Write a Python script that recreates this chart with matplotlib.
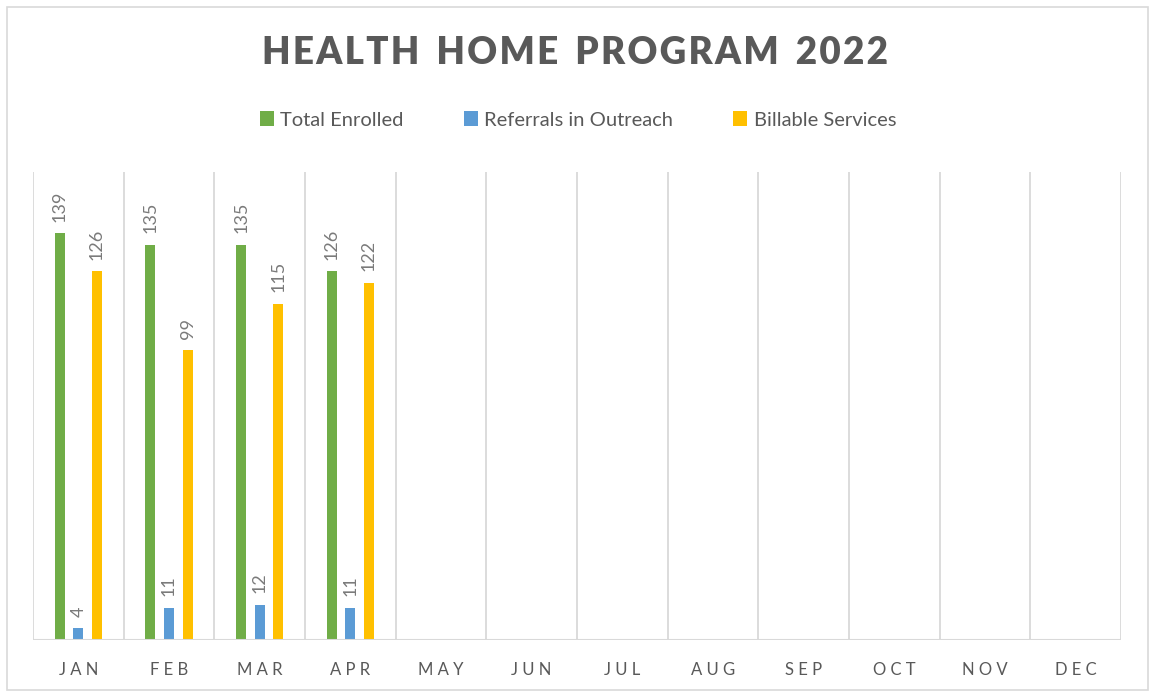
import matplotlib.pyplot as plt
import numpy as np
from matplotlib.patches import Rectangle

months = ['JAN', 'FEB', 'MAR', 'APR', 'MAY', 'JUN', 'JUL', 'AUG', 'SEP', 'OCT', 'NOV', 'DEC']
total_enrolled = [139, 135, 135, 126]
referrals = [4, 11, 12, 11]
billable = [126, 99, 115, 122]

series = [
    ('Total Enrolled', total_enrolled, '#70AD47'),
    ('Referrals in Outreach', referrals, '#5B9BD5'),
    ('Billable Services', billable, '#FFC000'),
]

text_gray = '#595959'
grid_gray = '#D9D9D9'
plt.rcParams['font.family'] = ['Lato', 'DejaVu Sans']


def spaced(s, sep='\u2009'):
    return sep.join(s)


fig = plt.figure(figsize=(11.49, 6.94), dpi=100)
ax = fig.add_axes([33 / 1149, 1 - 640 / 694, 1088 / 1149, 468 / 694])

x = np.arange(len(months))
offsets = [-0.205, 0.0, 0.205]
width = 0.11
for (name, vals, color), off in zip(series, offsets):
    xs = x[:len(vals)] + off
    ax.bar(xs, vals, width, color=color, label=name, zorder=3)
    for xi, v in zip(xs, vals):
        ax.text(xi, v + 4, str(v), rotation=90, ha='center', va='bottom',
                fontsize=13, color='#7a7a7a')

ax.set_xlim(-0.5, len(months) - 0.5)
ax.set_ylim(0, 160)
for b in np.arange(-0.5, len(months) + 0.5, 1):
    ax.axvline(b, color=grid_gray, lw=1.3, zorder=1)
for s in ax.spines.values():
    s.set_visible(False)
ax.axhline(0, color=grid_gray, lw=1.5, zorder=4)
ax.set_yticks([])
ax.set_xticks(x)
ax.set_xticklabels([spaced(m, ' ') for m in months], fontsize=12, color=text_gray)
ax.tick_params(axis='x', length=0, pad=16)

title = '  '.join(spaced(w, '\u200a') for w in 'HEALTH HOME PROGRAM 2022'.split())
fig.text(0.5, 1 - 53 / 694, title, ha='center', va='center', fontsize=26.5,
         fontweight='heavy', color=text_gray)

handles, labels = ax.get_legend_handles_labels()
fig.legend(handles, labels, loc='center', bbox_to_anchor=(0.503, 1 - 120 / 694), ncol=3,
           frameon=False, fontsize=14.5, labelcolor=text_gray, handlelength=0.7,
           handleheight=0.7, handletextpad=0.3, columnspacing=3.0)

fig.patches.append(Rectangle((7 / 1149, 4 / 694), 1141 / 1149, 683 / 694, transform=fig.transFigure,
                             fill=False, edgecolor=grid_gray, lw=1.2))

fig.savefig('out.png', dpi=100)
